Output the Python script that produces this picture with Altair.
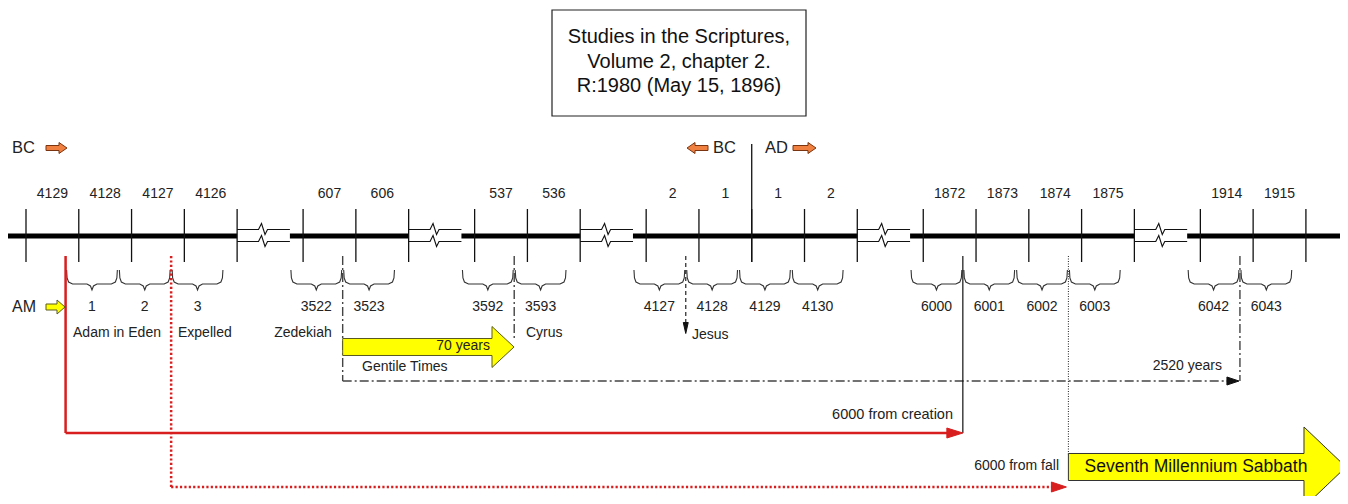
import altair as alt
import pandas as pd

# ---------------- data (timeline content) ----------------
# position of year slots on the drawn scale: one slot = one calendar year
X0, STEP = 26.0, 52.78

TOP_YEARS = ["4129", "4128", "4127", "4126", "607", "606", "537", "536",
             "2", "1", "1", "2", "1872", "1873", "1874", "1875", "1914", "1915"]
TOP_SLOTS = [0.5, 1.5, 2.5, 3.5, 5.75, 6.75, 9.0, 10.0,
             12.25, 13.25, 14.25, 15.25, 17.5, 18.5, 19.5, 20.5, 22.75, 23.75]

AM_YEARS = ["1", "2", "3", "3522", "3523", "3592", "3593", "4127", "4128", "4129", "4130",
            "6000", "6001", "6002", "6003", "6042", "6043"]
AM_START = [0.75, 1.75, 2.75, 5.0, 6.0, 8.25, 9.25, 11.5, 12.5, 13.5, 14.5,
            16.75, 17.75, 18.75, 19.75, 22.0, 23.0]

TICK_SLOTS = [0, 1, 2, 3, 4, 5.25, 6.25, 7.25, 8.5, 9.5, 10.5,
              11.75, 12.75, 13.75, 14.75, 15.75, 17, 18, 19, 20, 21, 22.25, 23.25, 24.25]
SEGMENTS = [(-0.36, 4), (5.0, 7.25), (8.25, 10.5), (11.5, 15.75), (16.75, 21), (22.0, 24.95)]
BREAKS = [(4, 5.0), (7.25, 8.25), (10.5, 11.5), (15.75, 16.75), (21, 22.0)]
ERA_SLOT = 13.75  # BC | AD divider

TITLE_LINES = ["Studies in the Scriptures,", "Volume 2, chapter 2.", "R:1980 (May 15, 1896)"]

# ---------------- layout constants ----------------
Y_LINE, TICK_T, TICK_B = 236, 209, 262
BR_T, BR_M, BR_TIP = 270, 284, 290
Y_TOP_LAB, Y_AM_LAB = 194, 307
EV_T = 256


def sx(s):
    return X0 + s * STEP


XS = alt.Scale(domain=[8, 1340], nice=False, zero=False)
YS = alt.Scale(domain=[8, 496], nice=False, zero=False, reverse=True)


def X(f):
    return alt.X(f"{f}:Q", scale=XS, axis=None)


def Y(f):
    return alt.Y(f"{f}:Q", scale=YS, axis=None)


def rules(rows, **kw):
    df = pd.DataFrame(rows, columns=["x", "x2", "y", "y2"])
    return alt.Chart(df).mark_rule(**kw).encode(x=X("x"), x2="x2", y=Y("y"), y2="y2")


layers = []

# title box
box = pd.DataFrame([{"x": 552, "x2": 806, "y": 10, "y2": 116}])
layers.append(alt.Chart(box).mark_rect(fill="white", stroke="#222", strokeWidth=1.2)
              .encode(x=X("x"), x2="x2", y=Y("y"), y2="y2"))

# thick timeline segments
layers.append(rules([(sx(a), sx(b), Y_LINE, Y_LINE) for a, b in SEGMENTS],
                    color="black", strokeWidth=5, strokeCap="butt"))

# ticks
layers.append(rules([(sx(s), sx(s), TICK_T, TICK_B) for s in TICK_SLOTS],
                    color="#111", strokeWidth=1.3))
layers.append(rules([(sx(ERA_SLOT), sx(ERA_SLOT), 144, TICK_B)], color="#111", strokeWidth=1.3))

# break symbols (double thin line with zigzag)
rows = []
k = 0
for a, b in BREAKS:
    xa, xb = sx(a), sx(b)
    c = (xa + xb) / 2
    for yy in (229.5, 241.5):
        pts = [(xa, yy), (c - 5, yy), (c - 2, yy - 6), (c + 1.5, yy + 5), (c + 4, yy), (xb, yy)]
        for i, (px, py) in enumerate(pts):
            rows.append({"x": px, "y": py, "id": k, "ord": i})
        k += 1
zz = pd.DataFrame(rows)
layers.append(alt.Chart(zz).mark_line(color="#111", strokeWidth=1.1)
              .encode(x=X("x"), y=Y("y"), detail="id:N", order="ord:Q"))

# braces for AM years
rows = []
for k, s in enumerate(AM_START):
    a, b = sx(s) + 1, sx(s + 1) - 1
    m = (a + b) / 2
    pts = [(a, BR_T), (a + 0.5, BR_M - 6), (a + 2, BR_M - 2), (a + 6, BR_M), (m - 5, BR_M),
           (m - 1.5, BR_M + 2), (m, BR_TIP), (m + 1.5, BR_M + 2), (m + 5, BR_M),
           (b - 6, BR_M), (b - 2, BR_M - 2), (b - 0.5, BR_M - 6), (b, BR_T)]
    for i, (px, py) in enumerate(pts):
        rows.append({"x": px, "y": py, "id": k, "ord": i})
br = pd.DataFrame(rows)
layers.append(alt.Chart(br).mark_line(color="#333", strokeWidth=1.1)
              .encode(x=X("x"), y=Y("y"), detail="id:N", order="ord:Q"))

# event lines
RED = "#D81E1E"
layers.append(rules([(sx(0.75), sx(0.75), EV_T, 433), (sx(0.75), sx(17.75) - 12, 433, 433)],
                    color=RED, strokeWidth=2.5))
layers.append(rules([(sx(2.75), sx(2.75), EV_T, 487), (sx(2.75), sx(19.75) - 14, 487, 487)],
                    color=RED, strokeWidth=2.5, strokeDash=[2.2, 2.2]))
layers.append(rules([(sx(6.0), sx(6.0), EV_T, 381), (sx(9.25), sx(9.25), EV_T, 340),
                     (sx(23.0), sx(23.0), EV_T, 381), (sx(6.0), sx(23.0) - 12, 381, 381)],
                    color="#444", strokeWidth=1.4, strokeDash=[9, 3, 2, 3]))
layers.append(rules([(sx(12.5), sx(12.5), EV_T, 322)], color="#333", strokeWidth=1.3,
                    strokeDash=[4, 3]))
layers.append(rules([(sx(17.75), sx(17.75), EV_T, 433)], color="#111", strokeWidth=1.2))
layers.append(rules([(sx(19.75), sx(19.75), EV_T, 455)], color="#222", strokeWidth=1,
                    strokeDash=[1, 1.5]))


# block arrows and arrow heads as custom symbols
def arrow(left, tip, cy, body, head, hlen, fill, stroke, flip=False):
    L = abs(tip - left)
    s = L / 2
    hb = 1 - hlen / s
    bh, hh = body / s, head / s
    pts = [(-1, -bh), (hb, -bh), (hb, -hh), (1, 0), (hb, hh), (hb, bh), (-1, bh)]
    if flip:
        pts = [(-px, py) for px, py in pts]
    path = "M " + " L ".join(f"{px:.4f},{py:.4f}" for px, py in pts) + " Z"
    return {"x": (left + tip) / 2, "y": cy, "path": path, "size": L * L,
            "fill": fill, "stroke": stroke}


def head(tip, cy, length, half, color):
    s = length / 2
    path = f"M -1,{-half / s:.4f} L 1,0 L -1,{half / s:.4f} Z"
    return {"x": tip - s, "y": cy, "path": path, "size": length * length,
            "fill": color, "stroke": color}


ORANGE, ORANGE_E = "#F08040", "#7A3510"
YEL, YEL_E = "#FFFF00", "#5A5A20"
shapes = [
    arrow(46, 67, 148, 2.5, 5.5, 8, ORANGE, ORANGE_E),
    arrow(687, 708, 148, 2.5, 5.5, 8, ORANGE, ORANGE_E, flip=True),
    arrow(793, 816, 148, 2.5, 5.5, 8, ORANGE, ORANGE_E),
    arrow(46, 65, 307, 3, 7, 8, YEL, YEL_E),
    arrow(sx(6.0), 514, 347, 8.5, 20.5, 22, YEL, YEL_E),
    arrow(sx(19.75), 1346, 467, 13.5, 40, 42, YEL, "#333"),
    head(sx(17.75), 433, 16, 5, RED),
    head(sx(19.75) - 2, 487, 15, 5, RED),
    head(sx(23.0) - 1, 381, 12, 4, "#111"),
]
jes = {"x": sx(12.5), "y": 328, "path": "M -0.45,-1 L 0.45,-1 L 0,1 Z", "size": 121,
       "fill": "#111", "stroke": "#111"}
shapes.append(jes)
sh = pd.DataFrame(shapes)
layers.append(alt.Chart(sh).mark_point(filled=True, opacity=1, strokeWidth=1)
              .encode(x=X("x"), y=Y("y"),
                      shape=alt.Shape("path:N", scale=None),
                      size=alt.Size("size:Q", scale=None),
                      fill=alt.Fill("fill:N", scale=None),
                      stroke=alt.Stroke("stroke:N", scale=None)))

# texts
FONT = "Liberation Sans"
center_txt = (
    [{"x": sx(s), "y": Y_TOP_LAB, "t": t, "fs": 14, "c": "#222"} for s, t in zip(TOP_SLOTS, TOP_YEARS)]
    + [{"x": sx(s + 0.5), "y": Y_AM_LAB, "t": t, "fs": 14, "c": "#222"} for s, t in zip(AM_START, AM_YEARS)]
    + [{"x": 679, "y": 37 + 24.5 * i, "t": t, "fs": 20, "c": "#111"} for i, t in enumerate(TITLE_LINES)]
    + [{"x": 117, "y": 333, "t": "Adam in Eden", "fs": 14, "c": "#222"},
       {"x": 303, "y": 333, "t": "Zedekiah", "fs": 14, "c": "#222"},
       {"x": 1196, "y": 467, "t": "Seventh Millennium Sabbath", "fs": 17.5, "c": "#111"}]
)
left_txt = [
    {"x": 12, "y": 148, "t": "BC", "fs": 16.5, "c": "#222"},
    {"x": 713, "y": 148, "t": "BC", "fs": 16.5, "c": "#222"},
    {"x": 765, "y": 148, "t": "AD", "fs": 16.5, "c": "#222"},
    {"x": 12, "y": 307, "t": "AM", "fs": 16, "c": "#222"},
    {"x": 178, "y": 333, "t": "Expelled", "fs": 14, "c": "#222"},
    {"x": 526, "y": 333, "t": "Cyrus", "fs": 14, "c": "#222"},
    {"x": 692, "y": 335, "t": "Jesus", "fs": 14, "c": "#222"},
    {"x": 362, "y": 367, "t": "Gentile Times", "fs": 14, "c": "#222"},
]
right_txt = [
    {"x": 490, "y": 346, "t": "70 years", "fs": 14, "c": "#222"},
    {"x": 1222, "y": 366, "t": "2520 years", "fs": 14, "c": "#222"},
    {"x": 953, "y": 415, "t": "6000 from creation", "fs": 14.5, "c": "#222"},
    {"x": 1059, "y": 466, "t": "6000 from fall", "fs": 14, "c": "#222"},
]
for rows, al in ((center_txt, "center"), (left_txt, "left"), (right_txt, "right")):
    layers.append(alt.Chart(pd.DataFrame(rows)).mark_text(align=al, baseline="middle", font=FONT)
                  .encode(x=X("x"), y=Y("y"), text="t:N",
                          size=alt.Size("fs:Q", scale=None),
                          color=alt.Color("c:N", scale=None)))

chart = (alt.layer(*layers)
         .properties(width=1332, height=488, padding=0, autosize="none", background="white")
         .configure_view(stroke=None))

chart.save("out.html", embed_options={"renderer": "svg", "actions": False})
